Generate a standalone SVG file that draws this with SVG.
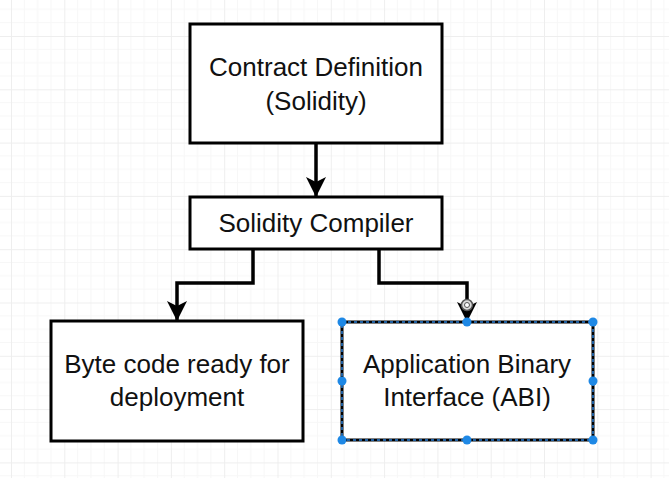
<svg xmlns="http://www.w3.org/2000/svg" width="669" height="478" viewBox="0 0 669 478">
  <defs>
    <pattern id="grid" x="11" y="36" width="53.3" height="53.3" patternUnits="userSpaceOnUse">
      <path d="M13.3 0V53.3M26.6 0V53.3M40 0V53.3M0 13.3H53.3M0 26.6H53.3M0 40H53.3" stroke="#f7f7f7" stroke-width="1" fill="none"/>
      <path d="M0.5 0V53.3M0 0.5H53.3" stroke="#eeeeee" stroke-width="1" fill="none"/>
    </pattern>
    <marker id="arrow" viewBox="0 0 20 20" refX="20" refY="10" markerWidth="20" markerHeight="20" markerUnits="userSpaceOnUse" orient="auto">
      <path d="M0 0L20 10L0 20L5 10Z" fill="#000"/>
    </marker>
    <style>
      .box { fill: #fff; stroke: #000; stroke-width: 3; }
      .label { font-family: "Liberation Sans", Arial, sans-serif; font-size: 26px; fill: #111; text-anchor: middle; }
      .conn { fill: none; stroke: #000; stroke-width: 3.5; }
      .handle { fill: #1e88e5; stroke: none; }
    </style>
  </defs>
  <rect width="669" height="478" fill="#fff"/>
  <rect width="669" height="478" fill="url(#grid)"/>

  <g id="connectors">
    <path class="conn" d="M316 143V197" marker-end="url(#arrow)"/>
    <path class="conn" d="M253 249V283H177V321" marker-end="url(#arrow)"/>
    <path class="conn" d="M379 249V283H467V322" marker-end="url(#arrow)"/>
  </g>

  <g id="contract-definition">
    <rect class="box" x="190" y="24" width="252" height="119"/>
    <text class="label" x="316" y="76">Contract Definition</text>
    <text class="label" x="316" y="110">(Solidity)</text>
  </g>

  <g id="solidity-compiler">
    <rect class="box" x="190" y="197" width="252" height="52"/>
    <text class="label" x="316" y="232">Solidity Compiler</text>
  </g>

  <g id="byte-code">
    <rect class="box" x="51" y="321" width="252" height="120"/>
    <text class="label" x="177" y="373">Byte code ready for</text>
    <text class="label" x="177" y="406">deployment</text>
  </g>

  <g id="abi">
    <rect x="342" y="322" width="251" height="118" fill="#fff" stroke="#000" stroke-width="3"/>
    <rect x="342" y="322" width="251" height="118" fill="none" stroke="#2a7fd6" stroke-width="1.5" stroke-dasharray="3 3"/>
    <text class="label" x="467" y="373">Application Binary</text>
    <text class="label" x="467" y="406">Interface (ABI)</text>
    <circle class="handle" cx="342" cy="322" r="4.5"/>
    <circle class="handle" cx="467" cy="322" r="4.5"/>
    <circle class="handle" cx="593" cy="322" r="4.5"/>
    <circle class="handle" cx="342" cy="381" r="4.5"/>
    <circle class="handle" cx="593" cy="381" r="4.5"/>
    <circle class="handle" cx="342" cy="440" r="4.5"/>
    <circle class="handle" cx="467" cy="440" r="4.5"/>
    <circle class="handle" cx="593" cy="440" r="4.5"/>
    <circle cx="467" cy="305" r="5.5" fill="#ddd" stroke="#555" stroke-width="1.5"/>
    <circle cx="467" cy="305" r="2.5" fill="#fff" stroke="#555" stroke-width="1"/>
  </g>
</svg>
